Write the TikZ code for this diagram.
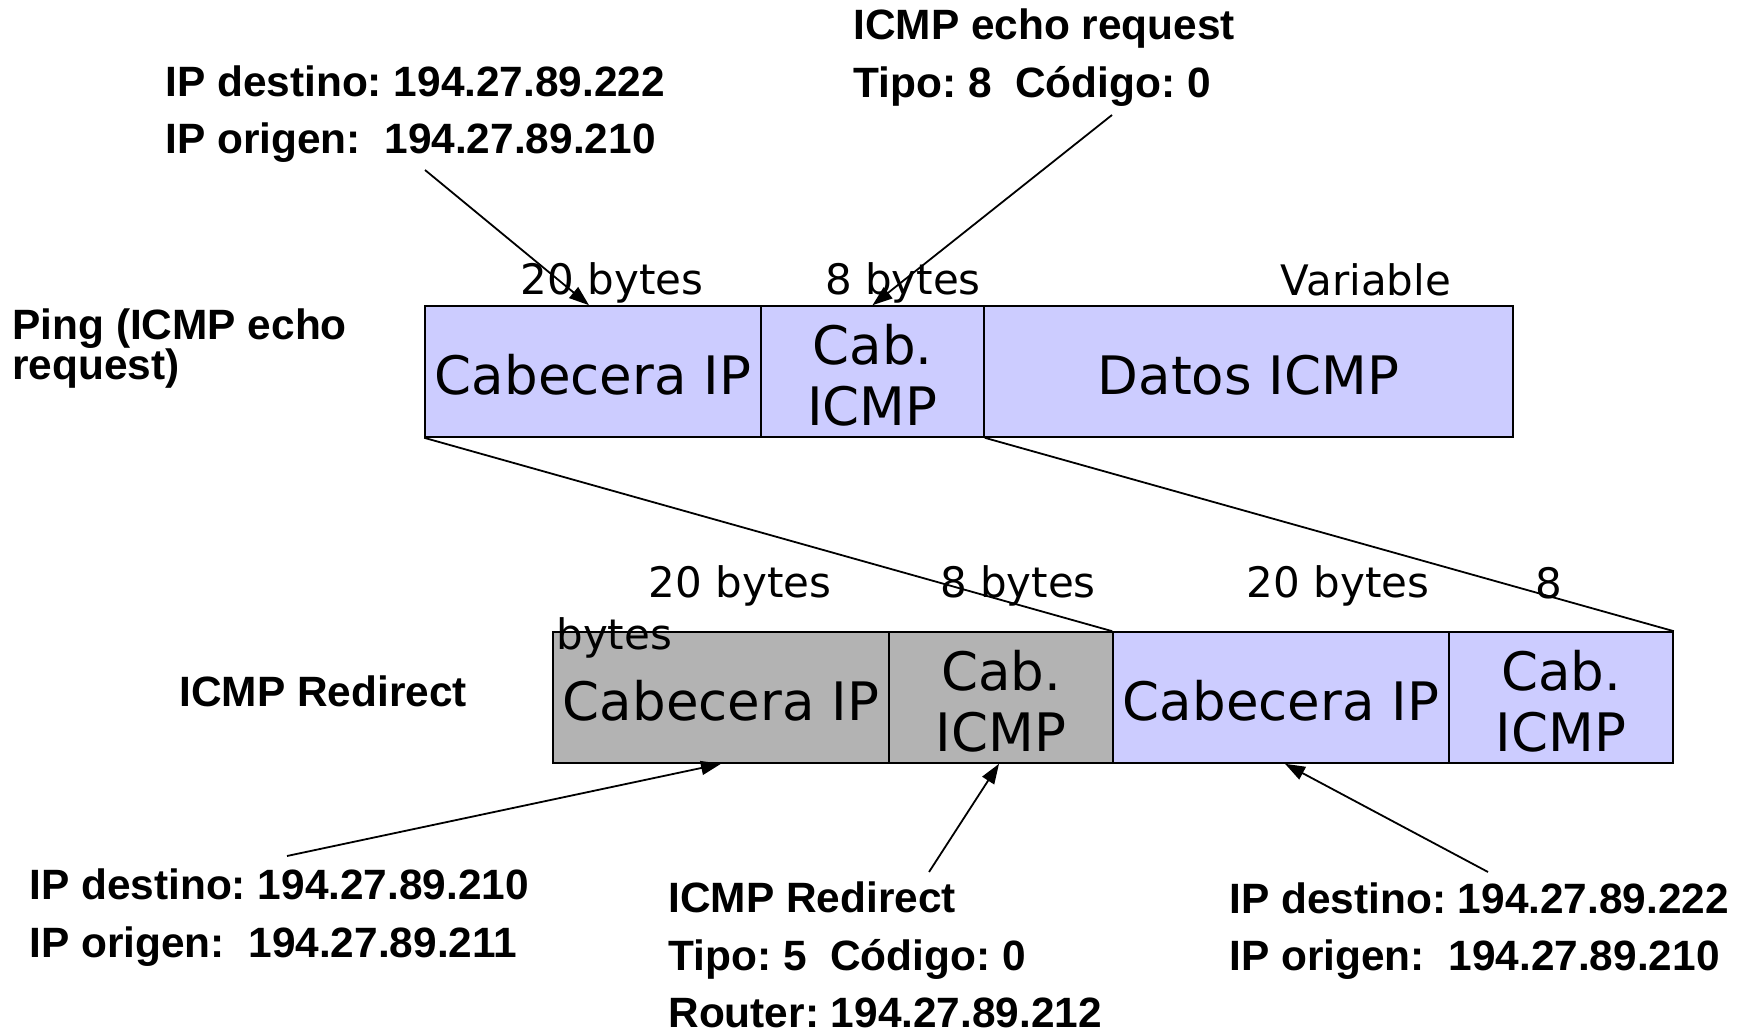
\documentclass[tikz,border=0pt]{standalone}
\usepackage{fontspec}
\setmainfont{DejaVu Sans}
\newfontfamily\lblfont{Liberation Sans}
\usetikzlibrary{arrows.meta}
\definecolor{lavfill}{HTML}{CCCCFF}
\definecolor{gryfill}{HTML}{B3B3B3}
\frenchspacing
\begin{document}
\begin{tikzpicture}[x=0.5pt,y=-0.5pt,
  cell/.style={draw=black, line width=0.8pt, minimum height=65.5pt, inner sep=0pt},
  celltext/.style={inner sep=0pt, yshift=-1.65pt, align=center,
    font=\fontsize{26.5}{30.5}\selectfont},
  lav/.style={fill=lavfill},
  gry/.style={fill=gryfill},
  bytelbl/.style={font=\fontsize{21}{25}\selectfont, inner sep=0pt},
  lbl/.style={font=\lblfont\bfseries\fontsize{21.2}{28.75}\selectfont, align=left, anchor=west, inner sep=0pt},
  conn/.style={line width=0.9pt},
  arr/.style={conn, -{Triangle[length=10pt,width=7pt]}}]
\useasboundingbox (0,0) rectangle (1744,1031);

% top row
\node[cell,lav,minimum width=168pt,  label={[celltext]center:Cabecera IP}]   (ip1)   at (593,371.5)   {};
\node[cell,lav,minimum width=111.5pt,label={[celltext]center:{Cab.\\ICMP}}]  (icmp1) at (872.5,371.5) {};
\node[cell,lav,minimum width=264.5pt,label={[celltext]center:Datos ICMP}]    (data1) at (1248.5,371.5){};

% bottom row
\node[cell,gry,minimum width=168pt,label={[celltext]center:Cabecera IP}]  (ip2)   at (721,697.5)  {};
\node[cell,gry,minimum width=112pt,label={[celltext]center:{Cab.\\ICMP}}] (icmp2) at (1001,697.5) {};
\node[cell,lav,minimum width=168pt,label={[celltext]center:Cabecera IP}]  (ip3)   at (1281,697.5) {};
\node[cell,lav,minimum width=112pt,label={[celltext]center:{Cab.\\ICMP}}] (icmp3) at (1561,697.5) {};

% byte labels
\node[bytelbl] (b1) at (612,283.3)  {20 bytes};
\node[bytelbl] (b2) at (903,283.3)  {8 bytes};
\node[bytelbl] (b3) at (1366,280) {Variable};
\node[bytelbl] (b4) at (740,586.3)  {20 bytes};
\node[bytelbl] (b5) at (1018,586.3) {8 bytes};
\node[bytelbl] (b6) at (1338,586.3) {20 bytes};
\node[bytelbl] (b7) at (1549,583)   {8};
\node[bytelbl,anchor=west] (b8) at (556,638) {bytes};

% text labels
\node[lbl] (l1) at (165,114.3)  {IP destino: 194.27.89.222\\IP origen:\ \ 194.27.89.210};
\node[lbl] (l2) at (853,57.8)   {ICMP echo request\\Tipo: 8\ \ Código: 0};
\node[lbl,font=\lblfont\bfseries\fontsize{21.2}{20}\selectfont] (l3) at (12,348.4) {Ping (ICMP echo\\request)};
\node[lbl] (l4) at (179,691)    {ICMP Redirect};
\node[lbl] (l5) at (29,917.5)   {IP destino: 194.27.89.210\\IP origen:\ \ 194.27.89.211};
\node[lbl] (l6) at (668,955)    {ICMP Redirect\\Tipo: 5\ \ Código: 0\\Router: 194.27.89.212};
\node[lbl] (l7) at (1229,931.3) {IP destino: 194.27.89.222\\IP origen:\ \ 194.27.89.210};

% connector start points
\coordinate (s1) at (425,170);
\coordinate (s2) at (1112,115);
\coordinate (s4) at (287,856);
\coordinate (s5) at (929,872);
\coordinate (s6) at (1488,872);

\draw[arr] (s1) -- ([xshift=-2pt]ip1.north);
\draw[arr] (s2) -- (icmp1.north);
\draw[arr] (s4) -- (ip2.south);
\draw[arr] (s5) -- ([xshift=-1pt]icmp2.south);
\draw[arr] (s6) -- ([xshift=2pt]ip3.south);

\draw[conn] (ip1.south west) -- (ip3.north west);
\draw[conn] (icmp1.south east) -- (icmp3.north east);
\end{tikzpicture}
\end{document}
